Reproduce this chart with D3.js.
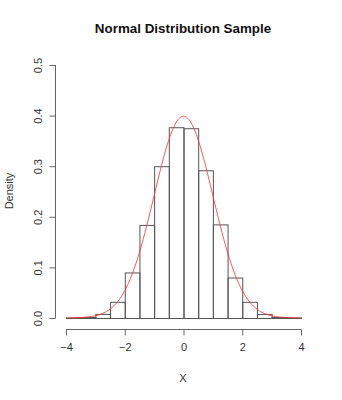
<!DOCTYPE html>
<html><head><meta charset="utf-8">
<script src="https://cdn.jsdelivr.net/npm/d3@7"></script>
<style>body{margin:0;background:#fff}text{font-family:"Liberation Sans",Arial,sans-serif}</style>
</head><body>
<svg id="c" width="342" height="400"></svg>
<script>
const binEdges = [-4,-3.5,-3,-2.5,-2,-1.5,-1,-0.5,0,0.5,1,1.5,2,2.5,3,3.5,4];
const density = [0.001,0.002,0.008,0.032,0.090,0.184,0.300,0.377,0.375,0.292,0.185,0.080,0.032,0.008,0.002,0.001];
const curveX = [-4,-3.75,-3.5,-3.25,-3,-2.75,-2.5,-2.25,-2,-1.75,-1.5,-1.25,-1,-0.75,-0.5,-0.25,0,0.25,0.5,0.75,1,1.25,1.5,1.75,2,2.25,2.5,2.75,3,3.25,3.5,3.75,4];
const curveY = [0.0001,0.0004,0.0009,0.0020,0.0044,0.0091,0.0175,0.0317,0.0540,0.0863,0.1295,0.1826,0.2420,0.3011,0.3521,0.3867,0.3989,0.3867,0.3521,0.3011,0.2420,0.1826,0.1295,0.0863,0.0540,0.0317,0.0175,0.0091,0.0044,0.0020,0.0009,0.0004,0.0001];
const xTicks = [-4,-2,0,2,4];
const yTicks = [0,0.1,0.2,0.3,0.4,0.5];

const svg = d3.select("#c");
const x = d3.scaleLinear().domain([-4,4]).range([66,301]);
const y = d3.scaleLinear().domain([0,0.5]).range([318,65]);

// bars
svg.append("g").selectAll("rect").data(density).join("rect")
  .attr("x",(d,i)=>x(binEdges[i])+0.5)
  .attr("width",(d,i)=>x(binEdges[i+1])-x(binEdges[i]))
  .attr("y",d=>y(d)+0.5)
  .attr("height",d=>y(0)-y(d))
  .attr("fill","none").attr("stroke","#555").attr("stroke-width",1);

// curve
svg.append("path").datum(curveX.map((v,i)=>[v,curveY[i]]))
  .attr("d",d3.line().x(d=>x(d[0])).y(d=>y(d[1])).curve(d3.curveMonotoneX))
  .attr("fill","none").attr("stroke","#ff3030").attr("stroke-width",0.8);

// x axis
const xa = svg.append("g").attr("transform","translate(0,329.5)")
  .call(d3.axisBottom(x).tickValues(xTicks).tickSize(6).tickPadding(8).tickFormat(d3.format("d")));
xa.select(".domain").attr("stroke","#666").attr("d","M66,0H301");
xa.selectAll(".tick line").attr("stroke","#666");
xa.selectAll("text").attr("font-size",11).attr("fill","#333").attr("font-family","Liberation Sans, Arial");

// y axis
const ya = svg.append("g").attr("transform","translate(55.5,0)")
  .call(d3.axisLeft(y).tickValues(yTicks).tickSize(6).tickFormat(d3.format(".1f")));
ya.select(".domain").attr("stroke","#666").attr("d","M0,318H0V65");
ya.selectAll(".tick line").attr("stroke","#666");
ya.selectAll(".tick text").attr("font-size",11).attr("fill","#333")
  .attr("font-family","Liberation Sans, Arial")
  .attr("text-anchor","middle").attr("x",0).attr("dy",null)
  .attr("transform","translate(-17,0) rotate(-90)").attr("dy","0.35em");

// titles
svg.append("text").attr("x",183).attr("y",33).attr("text-anchor","middle")
  .attr("font-size",13.4).attr("font-weight","bold").attr("fill","#111").text("Normal Distribution Sample");
svg.append("text").attr("x",183).attr("y",382).attr("text-anchor","middle")
  .attr("font-size",11).attr("fill","#333").text("X");
svg.append("text").attr("transform","translate(13,191) rotate(-90)").attr("text-anchor","middle")
  .attr("font-size",11).attr("fill","#333").text("Density");
</script>
</body></html>
